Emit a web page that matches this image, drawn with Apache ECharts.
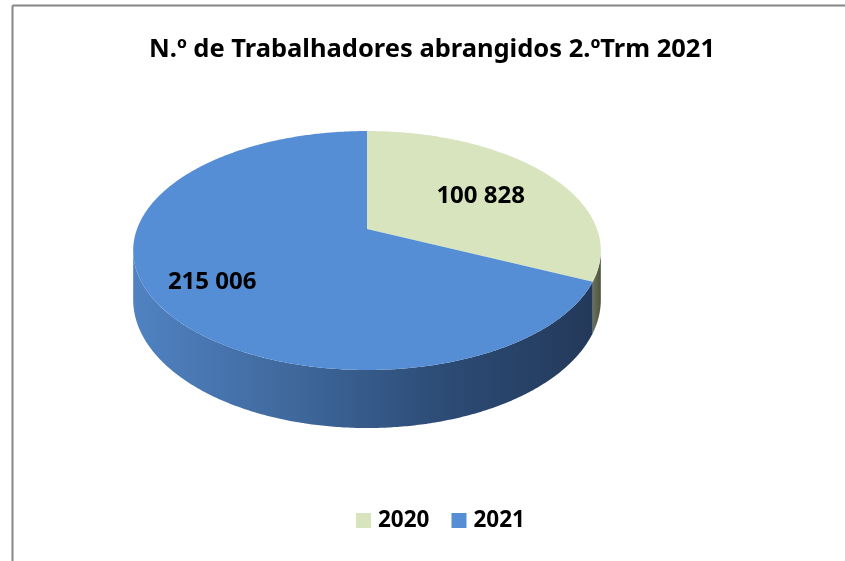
<!DOCTYPE html>
<html>
<head>
<meta charset="utf-8">
<script src="https://cdn.jsdelivr.net/npm/echarts@6/dist/echarts.min.js"></script>
<style>
  html, body { margin: 0; padding: 0; background: #fff; }
  #chart { width: 845px; height: 561px; }
</style>
</head>
<body>
<div id="chart"></div>
<script>
// dados
const years = ['2020', '2021'];
const workers = [100828, 215006];
const labels = ['100 828', '215 006'];

const topColors = ['#d7e4bd', '#558ed5'];
const sideColors = [
  [['#6b7257', 0], ['#4d5340', 1]],
  [['#5082c2', 0], ['#3f689c', 0.35], ['#2c4b75', 0.68], ['#24395a', 1]]
];
const labelRadius = [0.61, 0.75];

const total = workers.reduce((a, b) => a + b, 0);

// geometria da "pizza 3D" (perspectiva simples)
const CX = 367, CY = 229;   // vértice das fatias
const B = 230, A = 115.6;   // raios horizontal / vertical
const K = 0.18;             // perspetiva
const DEPTH = 47.6;         // espessura

function project(theta, r, down) {
  const u = Math.sin(theta) * r;
  const v = -Math.cos(theta) * r;
  const w = 1 - K * v;
  return [CX + B * u / w, CY + A * v / w + (down ? DEPTH / w : 0)];
}

function arc(t0, t1, r, down) {
  const pts = [];
  const n = Math.max(2, Math.ceil(Math.abs(t1 - t0) / (Math.PI / 360)));
  for (let i = 0; i <= n; i++) {
    pts.push(project(t0 + (t1 - t0) * i / n, r, down));
  }
  return pts;
}

// limites visíveis da parede lateral
const silL = Math.acos(-K);
const silR = 2 * Math.PI - silL;

function makeRender(idx) {
  return function (params, api) {
    let start = 0;
    for (let i = 0; i < idx; i++) start += workers[i];
    const t0 = start / total * Math.PI * 2;
    const t1 = (start + workers[idx]) / total * Math.PI * 2;
    const children = [];

    const s0 = Math.max(t0, silL), s1 = Math.min(t1, silR);
    if (s1 > s0) {
      const sidePts = arc(s0, s1, 1, false).concat(arc(s1, s0, 1, true));
      children.push({
        type: 'polygon',
        shape: { points: sidePts },
        style: {
          fill: new echarts.graphic.LinearGradient(0, 0, 1, 0,
            sideColors[idx].map(c => ({ offset: c[1], color: c[0] })))
        }
      });
    }

    const topPts = [[CX, CY]].concat(arc(t0, t1, 1, false));
    children.push({
      type: 'polygon',
      shape: { points: topPts },
      style: { fill: topColors[idx] }
    });

    const mid = (t0 + t1) / 2;
    const lp = project(mid, labelRadius[idx], false);
    children.push({
      type: 'text',
      style: {
        x: lp[0] + 2, y: lp[1] + 3,
        text: labels[idx],
        fill: '#000',
        font: 'bold 24px "Liberation Sans Narrow", "Noto Sans", sans-serif',
        align: 'center',
        verticalAlign: 'middle'
      }
    });
    return { type: 'group', children: children };
  };
}

const chart = echarts.init(document.getElementById('chart'), null, { renderer: 'canvas' });
chart.setOption({
  animation: false,
  title: {
    text: 'N.º de Trabalhadores abrangidos 2.ºTrm 2021',
    left: 144,
    top: 32,
    textStyle: {
      fontFamily: '"Liberation Sans Narrow", "Noto Sans", sans-serif',
      fontWeight: 'bold',
      fontSize: 25.5,
      color: '#000'
    }
  },
  legend: {
    data: years,
    bottom: 24,
    left: 351,
    icon: 'rect',
    itemWidth: 15,
    itemHeight: 15,
    itemGap: 22,
    textStyle: {
      fontFamily: '"Liberation Sans Narrow", "Noto Sans", sans-serif',
      fontWeight: 'bold',
      fontSize: 22.5,
      color: '#000',
      padding: [0, 0, 0, 2]
    }
  },
  graphic: [
    { type: 'line', shape: { x1: 12.5, y1: 5.5, x2: 845, y2: 5.5 }, style: { stroke: '#868686', lineWidth: 2 } },
    { type: 'line', shape: { x1: 12.5, y1: 5.5, x2: 12.5, y2: 561 }, style: { stroke: '#868686', lineWidth: 2 } }
  ],
  series: years.map((y, i) => ({
    type: 'custom',
    name: y,
    coordinateSystem: 'none',
    itemStyle: { color: topColors[i] },
    data: [workers[i]],
    renderItem: makeRender(i)
  }))
});
</script>
</body>
</html>
